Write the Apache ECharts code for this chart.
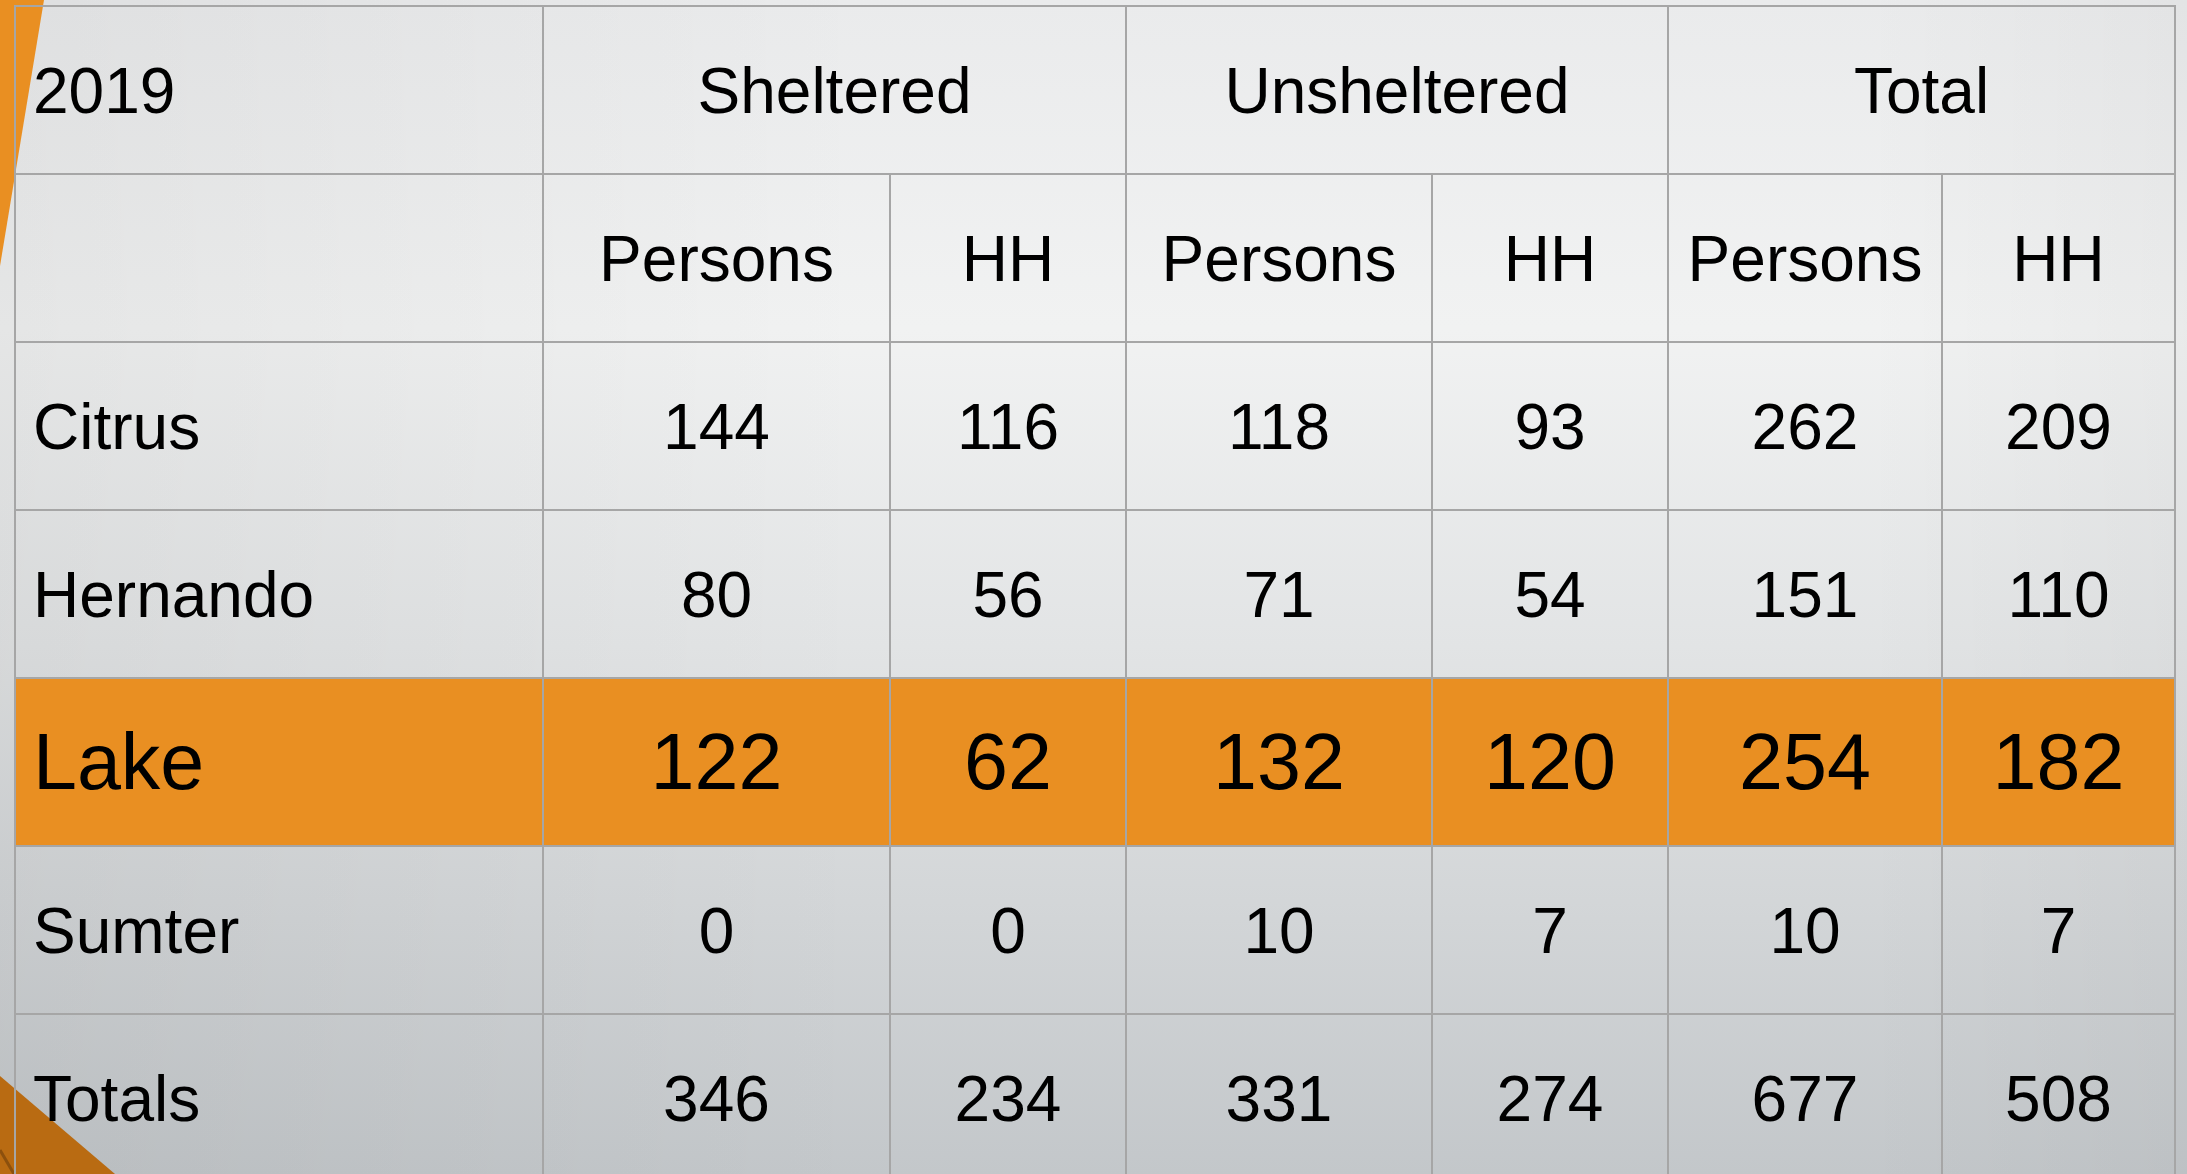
<!DOCTYPE html>
<html>
<head>
<meta charset="utf-8">
<script src="https://cdn.jsdelivr.net/npm/echarts@6/dist/echarts.min.js"></script>
<style>
html,body{margin:0;padding:0;width:2187px;height:1174px;overflow:hidden;}
#chart{width:2187px;height:1174px;}
</style>
</head>
<body>
<div id="chart"></div>
<script>
// ---------- data ----------
const year = '2019';
const groups = ['Sheltered', 'Unsheltered', 'Total'];
const measures = ['Persons', 'HH'];
const counties = ['Citrus', 'Hernando', 'Lake', 'Sumter', 'Totals'];
const shelteredPersons = [144, 80, 122, 0, 346];
const shelteredHH = [116, 56, 62, 0, 234];
const unshelteredPersons = [118, 71, 132, 10, 331];
const unshelteredHH = [93, 54, 120, 7, 274];
const totalPersons = [262, 151, 254, 10, 677];
const totalHH = [209, 110, 182, 7, 508];
const highlightCounty = 'Lake';

// ---------- layout ----------
const COL_W = [528, 347, 236, 306, 236, 274, 233];
const TOP = 6;
const ROW_H = 168;
const GRID_H = 1174 - TOP;           // visible part of the table
const Y_MAX = GRID_H / ROW_H;        // rows visible in the grid (last row is cut off)
const edges = [0];
COL_W.forEach(w => edges.push(edges[edges.length - 1] + w));
const ORANGE = '#e98f22';
const LINE = '#a6a6a6';
const FONT = "'Liberation Sans', Arial, sans-serif";

const valueCols = [shelteredPersons, shelteredHH, unshelteredPersons, unshelteredHH, totalPersons, totalHH];

const cells = [];
function addCell(c0, c1, r, text, opts) {
  cells.push(Object.assign({ value: [edges[c0], edges[c1], r], text: String(text) }, opts || {}));
}
// header row 0
addCell(0, 1, 0, year, { align: 'left' });
groups.forEach((g, i) => addCell(1 + 2 * i, 3 + 2 * i, 0, g));
// header row 1
addCell(0, 1, 1, '');
groups.forEach((g, i) => measures.forEach((m, j) => addCell(1 + 2 * i + j, 2 + 2 * i + j, 1, m)));
// body rows
counties.forEach((name, k) => {
  const hl = name === highlightCounty;
  addCell(0, 1, 2 + k, name, { align: 'left', hl });
  valueCols.forEach((arr, j) => addCell(1 + j, 2 + j, 2 + k, arr[k], { hl }));
});

function renderItem(params, api) {
  const m = cells[params.dataIndex];
  const p0 = api.coord([api.value(0), api.value(2)]);
  const p1 = api.coord([api.value(1), api.value(2) + 1]);
  const x = p0[0], y = p0[1], w = p1[0] - p0[0], h = p1[1] - p0[1];
  const size = m.hl ? 79 : 64;
  return {
    type: 'group',
    children: [
      { type: 'rect', shape: { x: x, y: y, width: w, height: h },
        style: { fill: m.hl ? ORANGE : 'rgba(0,0,0,0)', stroke: LINE, lineWidth: 2 } },
      { type: 'text', z2: 10,
        style: { text: m.text, x: m.align === 'left' ? x + 18 : x + w / 2, y: y + h / 2 + 5,
          align: m.align === 'left' ? 'left' : 'center', verticalAlign: 'middle',
          font: size + 'px ' + FONT, fill: '#000' } }
    ]
  };
}

const chart = echarts.init(document.getElementById('chart'));
chart.setOption({
  animation: false,
  graphic: [
    { type: 'rect', z: -10, shape: { x: 0, y: 0, width: 2187, height: 1174 },
      style: { fill: new echarts.graphic.LinearGradient(0, 0, 0, 1, [
        { offset: 0, color: '#eaebec' },
        { offset: 0.28, color: '#f1f2f2' },
        { offset: 0.55, color: '#e2e4e5' },
        { offset: 1, color: '#c3c7ca' }]) } },
    { type: 'rect', z: -9, shape: { x: 0, y: 0, width: 2187, height: 1174 },
      style: { fill: new echarts.graphic.LinearGradient(0, 0, 1, 0, [
        { offset: 0, color: 'rgba(0,0,0,0.05)' },
        { offset: 0.4, color: 'rgba(0,0,0,0)' },
        { offset: 0.85, color: 'rgba(0,0,0,0)' },
        { offset: 1, color: 'rgba(0,0,0,0.03)' }]) } },
    { type: 'polygon', z: -8, shape: { points: [[0, 0], [44, 0], [0, 266]] }, style: { fill: ORANGE } },
    { type: 'polygon', z: -8, shape: { points: [[0, 1076], [115, 1174], [0, 1174]] }, style: { fill: '#b96b12' } },
    { type: 'line', z: -7, shape: { x1: 0, y1: 1150, x2: 14, y2: 1174 }, style: { stroke: '#8c500d', lineWidth: 3 } }
  ],
  grid: { left: 15, top: TOP, width: edges[edges.length - 1], height: GRID_H },
  xAxis: { type: 'value', min: 0, max: edges[edges.length - 1], show: false },
  yAxis: { type: 'value', min: 0, max: Y_MAX, inverse: true, show: false },
  series: [{
    type: 'custom',
    clip: false,
    renderItem: renderItem,
    encode: { x: [0, 1], y: 2 },
    data: cells.map(c => ({ value: c.value, name: c.text }))
  }]
});
</script>
</body>
</html>
